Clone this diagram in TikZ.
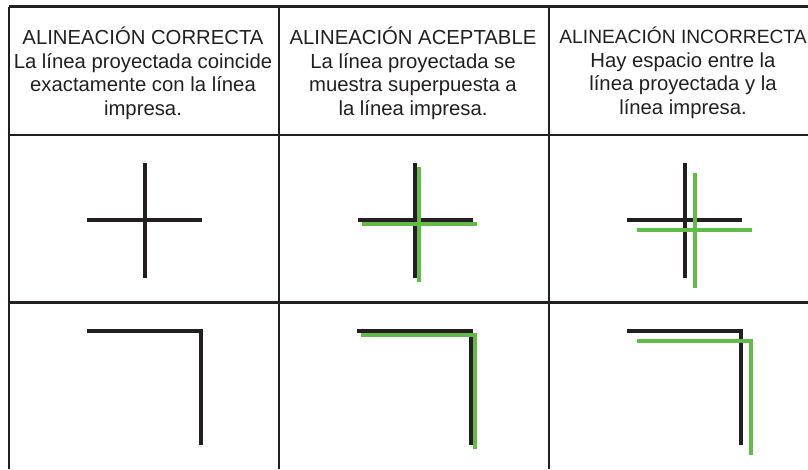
\documentclass[tikz,border=0pt]{standalone}
\usepackage{fontspec}
\setmainfont{Liberation Sans}
\usetikzlibrary{positioning}
\definecolor{inkblack}{RGB}{35,31,32}
\definecolor{projgreen}{RGB}{98,187,70}

\begin{document}
\begin{tikzpicture}[
  x=1pt, y=-1pt,
  grid/.style={draw=inkblack, line width=2.6pt},
  printed/.style={draw=inkblack, line width=3.4pt},
  projected/.style={draw=projgreen, line width=3.4pt},
  head/.style={anchor=north, inner sep=0pt, align=center, text=inkblack,
    font=\fontsize{20.3}{23.4}\selectfont},
]
  \useasboundingbox (0,0) rectangle (808,469);
  % table rules
  \draw[grid] (9,6.5) -- (808,6.5);
  \draw[grid] (9,135) -- (808,135);
  \draw[grid] (9,302.5) -- (808,302.5);
  \draw[grid] (9,6.5) -- (9,469);
  \draw[grid] (279,6.5) -- (279,469);
  \draw[grid] (549,6.5) -- (549,469);
  % headers
  \node[head] (hdrok) at (143,27) {ALINEACIÓN CORRECTA\\La línea proyectada coincide\\exactamente con la línea\\impresa.};
  \node[head] (hdracc) at (413,27) {ALINEACIÓN ACEPTABLE\\La línea proyectada se\\muestra superpuesta a\\la línea impresa.};
  \node[head] (hdrbad) at (683,27) {{\fontsize{19.2}{23.4}\selectfont ALINEACIÓN INCORRECTA}\\Hay espacio entre la\\línea proyectada y la\\línea impresa.};
  % crosses
  \draw[printed] (87,220) -- (202,220) (145,163) -- (145,278);
  \draw[printed] (358,220) -- (473,220) (415,163) -- (415,278);
  \draw[projected] (362,224) -- (477,224) (419,167) -- (419,282);
  \draw[printed] (627,220) -- (742,220) (685,163) -- (685,278);
  \draw[projected] (637,230) -- (752,230) (695,173) -- (695,288);
  % corners
  \draw[printed] (87,331) -- (201,331) -- (201,445);
  \draw[printed] (357,331) -- (471,331) -- (471,445);
  \draw[projected] (361,335) -- (475,335) -- (475,449);
  \draw[printed] (627,331) -- (741,331) -- (741,445);
  \draw[projected] (637,341) -- (751,341) -- (751,455);
\end{tikzpicture}
\end{document}
